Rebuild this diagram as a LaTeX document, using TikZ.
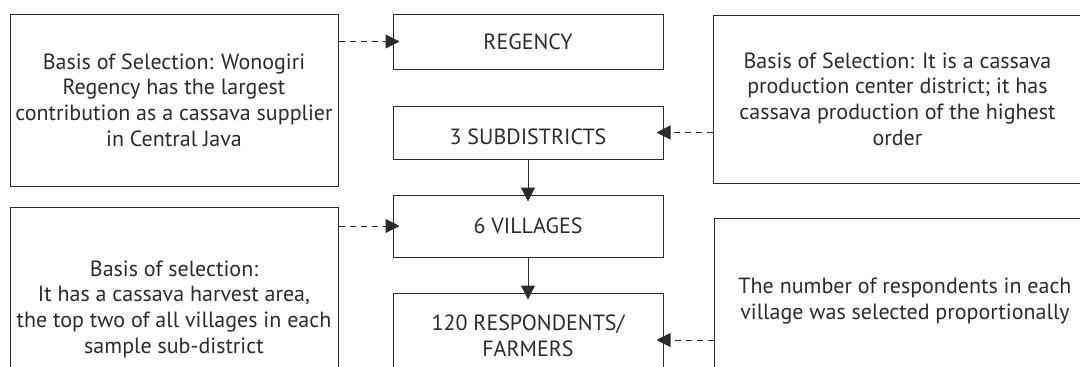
\documentclass[tikz,border=0pt]{standalone}
\usepackage{fontspec}
\setmainfont{PT Sans}
\usetikzlibrary{arrows.meta, positioning}
\definecolor{inkgray}{HTML}{2B2B2B}

\tikzset{
    basisbox/.style={draw=inkgray, line width=1pt, text=inkgray, align=center, inner sep=0pt},
    stagebox/.style={draw=inkgray, line width=1pt, text=inkgray, align=center, inner sep=0pt,
        minimum width=270pt},
    flow/.style={draw=inkgray, line width=1pt, -{Triangle[length=14pt, width=14pt]}, shorten >=-7pt},
    dashflow/.style={flow, dash pattern=on 6pt off 5pt},
}

\begin{document}
\begin{tikzpicture}[x=1pt, y=-1pt, font=\fontsize{22}{25.7}\selectfont]
        \useasboundingbox (0,0) rectangle (1080,367);
        \clip (0,0) rectangle (1080,367);
        % stages in the middle
        \node[stagebox, minimum height=55pt] (regency) at (528,41.5) {REGENCY};
        \node[stagebox, minimum height=53pt, text height=24pt, text depth=0pt] (subdist) at (528,132.5) {3 SUBDISTRICTS};
        \node[stagebox, minimum height=62pt] (village) at (528,226) {6 VILLAGES};
        \node[stagebox, minimum height=86pt] (farmer) at (528,336) {120 RESPONDENTS/\\FARMERS};
        % basis of selection, left and right
        \node[basisbox, minimum width=328pt, minimum height=172pt] (basisreg) at (174,100)
            {Basis of Selection: Wonogiri\\Regency has the largest\\contribution as a cassava supplier\\in Central Java};
        \node[basisbox, minimum width=369pt, minimum height=168pt] (basissub) at (897.5,99)
            {Basis of Selection: It is a cassava\\production center district; it has\\cassava production of the highest\\order};
        \node[basisbox, minimum width=328pt, minimum height=204pt] (basisvil) at (174,309)
            {Basis of selection:\\It has a cassava harvest area,\\the top two of all villages in each\\sample sub-district};
        \node[basisbox, minimum width=382pt, minimum height=166pt] (basisfar) at (905,301)
            {The number of respondents in each\\village was selected proportionally};
        % connectors
        \draw[dashflow] (basisreg.east |- regency.west) -- (regency.west);
        \draw[dashflow] (basissub.west |- subdist.east) -- (subdist.east);
        \draw[dashflow] (basisvil.east |- village.west) -- (village.west);
        \draw[dashflow] (basisfar.west |- 0,340) -- (farmer.east |- 0,340);
        \draw[flow] (subdist) -- (village);
        \draw[flow] (village) -- (farmer);
    \end{tikzpicture}
\end{document}
